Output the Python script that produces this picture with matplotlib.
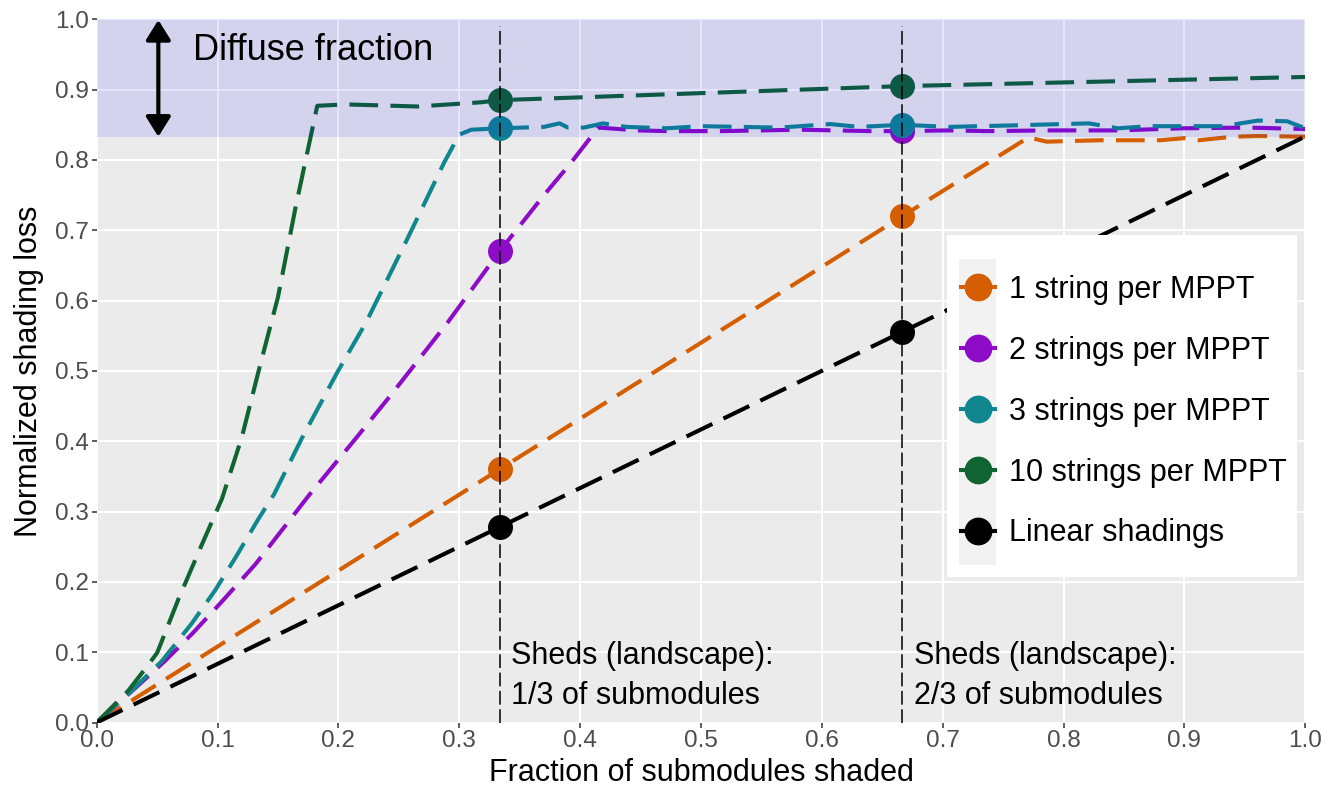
import numpy as np
import matplotlib
matplotlib.use("Agg")
import matplotlib.pyplot as plt
from matplotlib.lines import Line2D
from matplotlib.patches import Rectangle

plt.rcParams["font.family"] = ["Liberation Sans", "DejaVu Sans"]

# ---- data ----
x_one = [0, 1/3, 2/3, 0.771, 0.786, 0.83, 0.88, 0.90, 0.912, 0.94, 0.96, 1.0]
y_one = [0, 0.36, 0.72, 0.832, 0.826, 0.828, 0.828, 0.831, 0.828, 0.833, 0.834, 0.833]

x_two = [0, 0.03, 0.0565, 0.08, 0.1036, 0.1313, 0.1756, 0.2144, 0.2436, 0.2905,
         1/3, 0.3706, 0.392, 0.415, 0.448, 0.471, 0.518, 0.582, 0.640, 2/3,
         0.705, 0.738, 0.788, 0.845, 0.899, 0.953, 1.0]
y_two = [0, 0.046, 0.0875, 0.128, 0.172, 0.225, 0.323, 0.404, 0.466, 0.569,
         0.67, 0.751, 0.795, 0.846, 0.842, 0.841, 0.841, 0.843, 0.841, 0.841,
         0.842, 0.841, 0.842, 0.842, 0.845, 0.846, 0.844]

x_three = [0, 0.03, 0.054, 0.0787, 0.098, 0.115, 0.134, 0.1469, 0.17, 0.1994,
           0.2229, 0.2574, 0.2877, 0.30, 0.31, 1/3, 0.37, 0.383, 0.39, 0.403,
           0.419, 0.438, 0.471, 0.50, 0.533, 0.565, 0.607, 0.631, 2/3, 0.705,
           0.755, 0.821, 0.845, 0.87, 0.903, 0.932, 0.961, 0.985, 1.0]
y_three = [0, 0.047, 0.0875, 0.141, 0.188, 0.235, 0.29, 0.325, 0.405, 0.499,
           0.569, 0.689, 0.797, 0.836, 0.843, 0.845, 0.847, 0.852, 0.846, 0.846,
           0.852, 0.847, 0.845, 0.848, 0.847, 0.846, 0.851, 0.847, 0.85, 0.847,
           0.849, 0.852, 0.845, 0.848, 0.848, 0.848, 0.856, 0.855, 0.845]

x_ten = [0, 0.026, 0.04, 0.05, 0.068, 0.085, 0.1036, 0.12, 0.134, 0.15, 0.1645,
         0.1825, 0.206, 0.2657, 0.318, 1/3, 2/3, 1.0]
y_ten = [0, 0.045, 0.076, 0.099, 0.177, 0.245, 0.318, 0.405, 0.5, 0.605, 0.732,
         0.877, 0.879, 0.876, 0.882, 0.885, 0.905, 0.918]

x_lin = [0, 1/3, 2/3, 1.0]
y_lin = [0, 0.2778, 0.5556, 0.8333]

labels = ["1 string per MPPT", "2 strings per MPPT", "3 strings per MPPT",
          "10 strings per MPPT", "Linear shadings"]
colors = ["#D55E00", "#8E0CC8", "#10878F", "#106431", "#000000"]
series = [(x_one, y_one), (x_two, y_two), (x_three, y_three),
          (x_ten, y_ten), (x_lin, y_lin)]

shed_fracs = [1/3, 2/3]
shed_texts = ["Sheds (landscape):\n1/3 of submodules",
              "Sheds (landscape):\n2/3 of submodules"]
diffuse = 0.833

# ---- figure ----
fig = plt.figure(figsize=(13.25, 7.93), dpi=100)
ax = fig.add_axes([96.7/1325, 1 - 722.5/793, 1208.5/1325, 703.2/793])
ax.set_facecolor("#EBEBEB")
for s in ax.spines.values():
    s.set_visible(False)

ticks = np.round(np.arange(0, 1.01, 0.1), 1)
ax.set_xticks(ticks); ax.set_yticks(ticks)
ax.set_xticklabels([f"{t:.1f}" for t in ticks])
ax.set_yticklabels([f"{t:.1f}" for t in ticks])
ax.set_xlim(0, 1); ax.set_ylim(0, 1)
ax.grid(True, color="white", lw=1.5)
ax.set_axisbelow(True)
ax.tick_params(length=3.6, width=1.1, color="#333333", labelcolor="#4D4D4D",
               labelsize=17.5, pad=2)

for (xs, ys), c in zip(series, colors):
    xs = np.asarray(xs); ys = np.asarray(ys)
    ax.plot(xs, ys, color=c, lw=2.95, dashes=(7, 3), zorder=3,
            solid_capstyle="butt", dash_capstyle="butt")
    m = np.isclose(xs[:, None], shed_fracs).any(axis=1)
    ax.plot(xs[m], ys[m], "o", color=c, ms=18, mec="none", zorder=4)

# diffuse band drawn on top of the curves
ax.axhspan(diffuse, 1.0, color="blue", alpha=0.1, lw=0, zorder=5)

for f, t in zip(shed_fracs, shed_texts):
    ax.plot([f, f], [0, 0.99], color="black", lw=1.1, dashes=(9, 3), zorder=6)
    l1, l2 = t.split("\n")
    ax.text(f + 0.0095, 0.099, l1, fontsize=22, va="center_baseline", zorder=7)
    ax.text(f + 0.0095, 0.043, l2, fontsize=22, va="center_baseline", zorder=7)

ax.annotate("", xy=(0.051, 0.999), xytext=(0.051, diffuse),
            arrowprops=dict(arrowstyle="<|-|>,head_length=0.4,head_width=0.25",
                            color="black", lw=3, mutation_scale=30,
                            shrinkA=0, shrinkB=0), zorder=7)
ax.text(0.0797, 0.956, "Diffuse fraction", fontsize=26, va="center", zorder=7)

ax.set_xlabel("Fraction of submodules shaded", fontsize=22, labelpad=4)
ax.set_ylabel("Normalized shading loss", fontsize=22, labelpad=8)

# legend: white box + grey key strip, then the legend itself
ax.add_patch(Rectangle((0.704, 0.207), 0.2895, 0.486, transform=ax.transAxes,
                       facecolor="white", edgecolor="none", zorder=8))
ax.add_patch(Rectangle((0.7139, 0.224), 0.0306, 0.435, transform=ax.transAxes,
                       facecolor="#F2F2F2", edgecolor="none", zorder=9))
handles = [Line2D([], [], color=c, lw=2.95, marker="o", ms=20, mec="none")
           for c in colors]
leg = ax.legend(handles, labels, loc="upper left", bbox_to_anchor=(0.7155, 0.6364),
                frameon=False, fontsize=22, handlelength=1.1, handletextpad=0.45,
                labelspacing=1.01, borderpad=0, borderaxespad=0)
leg.set_zorder(10)

fig.savefig("out.png", dpi=100)
